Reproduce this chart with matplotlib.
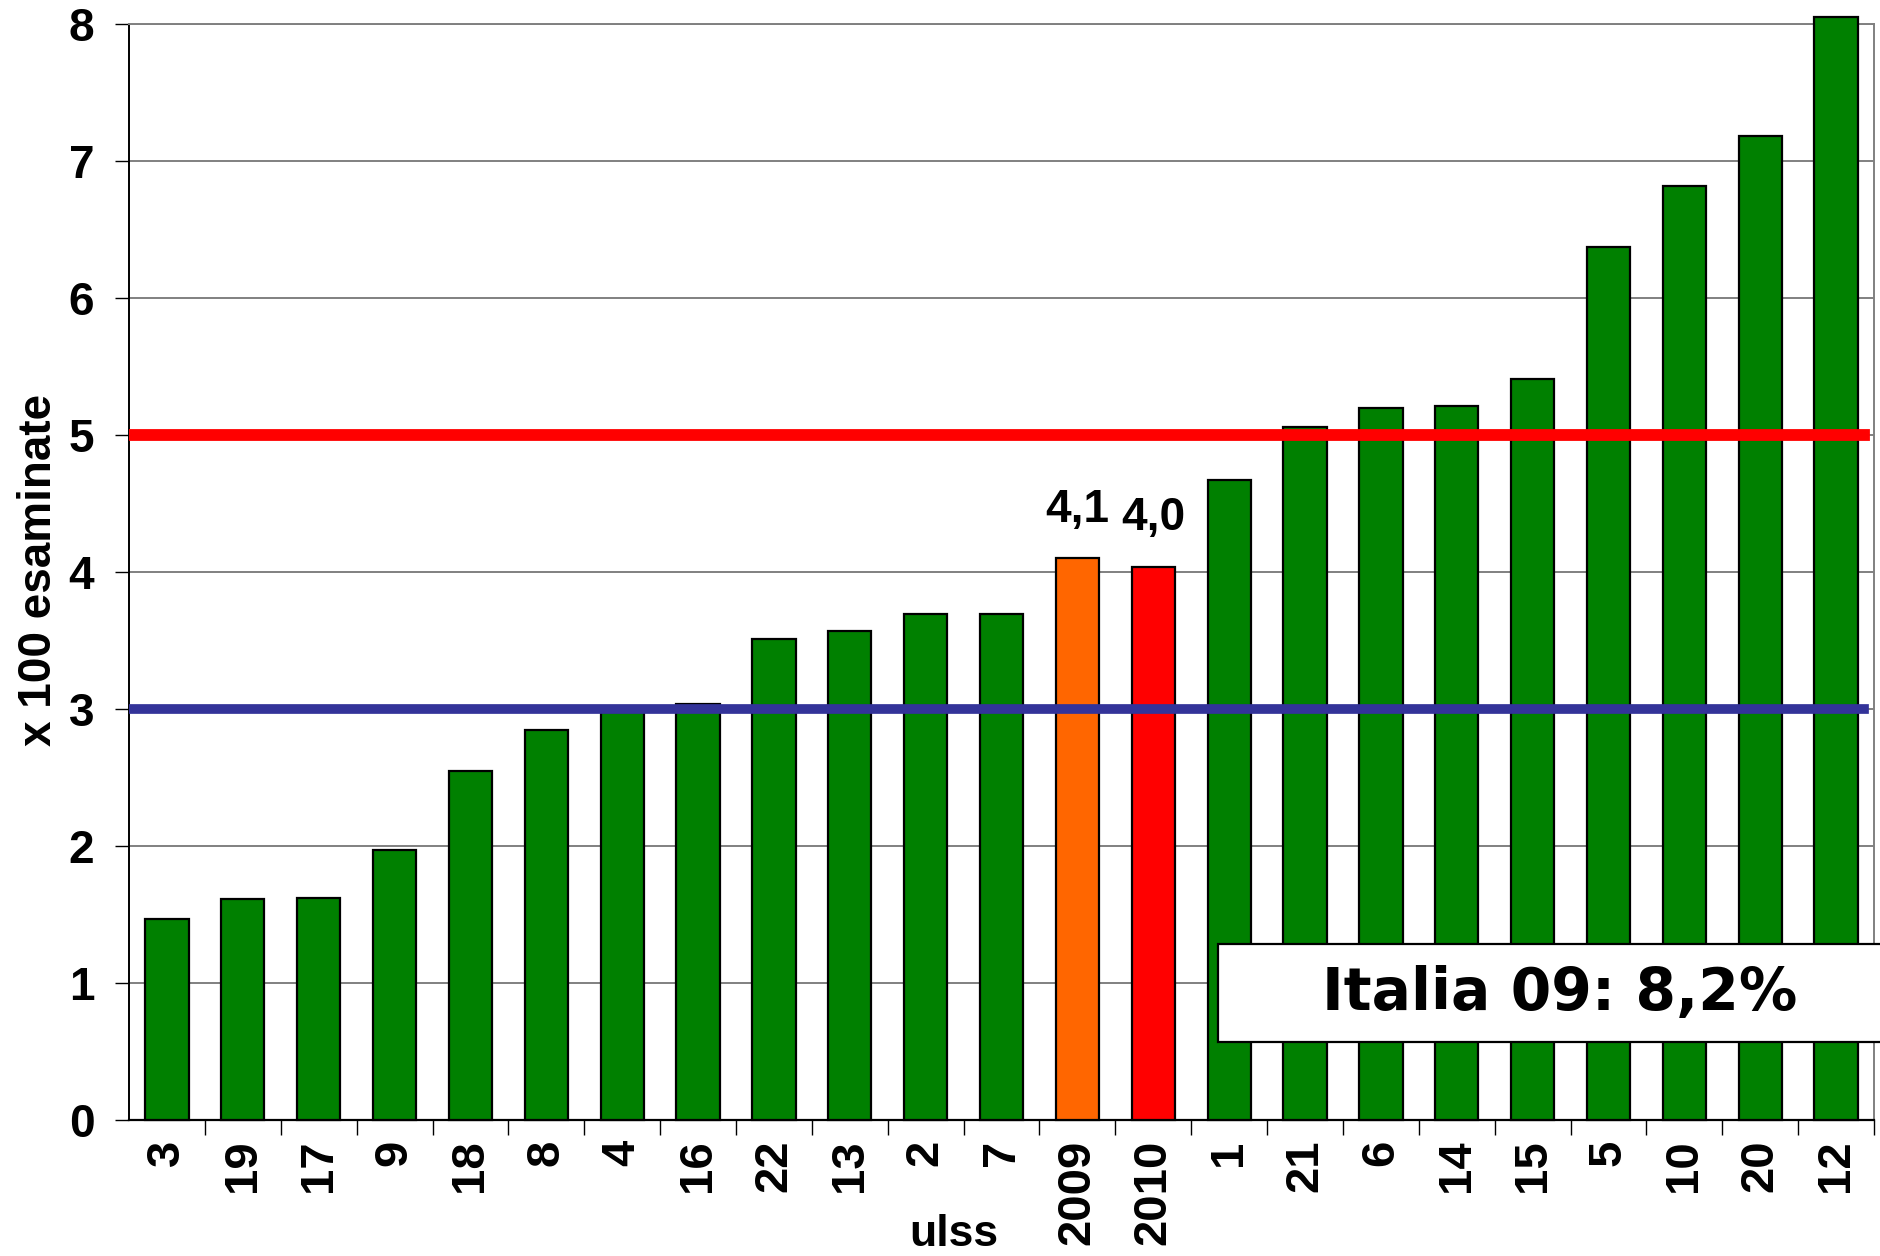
import matplotlib.pyplot as plt
from matplotlib.patches import Rectangle
from matplotlib.ticker import FixedLocator, MultipleLocator

# ulss categories sorted by rate, with the two regional totals in the middle
categories = ["3", "19", "17", "9", "18", "8", "4", "16", "22", "13", "2", "7",
              "2009", "2010", "1", "21", "6", "14", "15", "5", "10", "20", "12"]
values = [1.47, 1.61, 1.62, 1.97, 2.55, 2.85, 2.98, 3.04, 3.51, 3.57, 3.69, 3.69,
          4.1, 4.04, 4.67, 5.06, 5.2, 5.21, 5.41, 6.37, 6.82, 7.18, 8.05]
highlight = {"2009": ("#FF6600", "4,1"), "2010": ("#FF0000", "4,0")}
target_high = 5.0
target_low = 3.0
italia_label = "Italia 09: 8,2%"

GREEN = "#008000"

plt.rcParams["font.family"] = ["Liberation Sans", "DejaVu Sans"]
plt.rcParams["font.weight"] = "bold"

fig = plt.figure(figsize=(18.81, 12.56), dpi=100)
ax = fig.add_axes([0.0686, 0.1083, 0.9963 - 0.0686, 0.9809 - 0.1083])

x = list(range(len(categories)))
colors = [highlight[c][0] if c in highlight else GREEN for c in categories]
ax.bar(x, values, width=0.57, color=colors, edgecolor="black",
       linewidth=1.6, zorder=3, clip_on=False)

for i, cat in enumerate(categories):
    if cat in highlight:
        ax.annotate(highlight[cat][1], (i, values[i]), xytext=(0, 19),
                    textcoords="offset points", ha="center", va="bottom",
                    fontsize=33, fontweight="bold", zorder=5)

ax.axhline(target_high, xmin=0, xmax=0.994, color="#FF0000", linewidth=8.5, zorder=4)
ax.axhline(target_low, xmin=0, xmax=0.994, color="#333399", linewidth=7, zorder=4)

ax.set_xlim(-0.5, len(categories) - 0.5)
ax.set_ylim(0, 8)
ax.yaxis.set_major_locator(MultipleLocator(1))
ax.grid(axis="y", color="#808080", linewidth=1.4, zorder=0)

ax.set_xticks(x)
ax.set_xticklabels(categories, rotation=90, fontsize=34, fontweight="bold")
ax.xaxis.set_minor_locator(FixedLocator([i + 0.5 for i in range(len(categories))]))
ax.tick_params(axis="x", which="major", length=0, pad=14)
ax.tick_params(axis="x", which="minor", length=11, width=1.0, color="black")
ax.tick_params(axis="y", length=10, width=1.0, pad=15, labelsize=33)
for lbl in ax.get_yticklabels():
    lbl.set_fontweight("bold")

ax.spines["top"].set_color("#808080")
ax.spines["right"].set_color("#808080")
ax.spines["top"].set_linewidth(1.4)
ax.spines["right"].set_linewidth(1.4)
ax.spines["left"].set_linewidth(1.4)
ax.spines["bottom"].set_linewidth(1.6)

ax.set_ylabel("x 100 esaminate", fontsize=33, fontweight="bold")
ax.yaxis.set_label_coords(-0.039, 0.502)
fig.text(954 / 1881, 0.001, "ulss", ha="center", va="bottom",
         fontsize=32, fontweight="bold")

# national reference box, running off the right edge
fig.patches.append(Rectangle((0.6475, 0.1704), 0.40, 0.078, transform=fig.transFigure,
                             facecolor="white", edgecolor="black", linewidth=1.6,
                             zorder=10))
fig.text(0.829, 0.2086, italia_label, ha="center", va="center",
         fontsize=42, fontweight="bold", family=["DejaVu Sans"], zorder=11)

fig.savefig("out.png", dpi=100)
